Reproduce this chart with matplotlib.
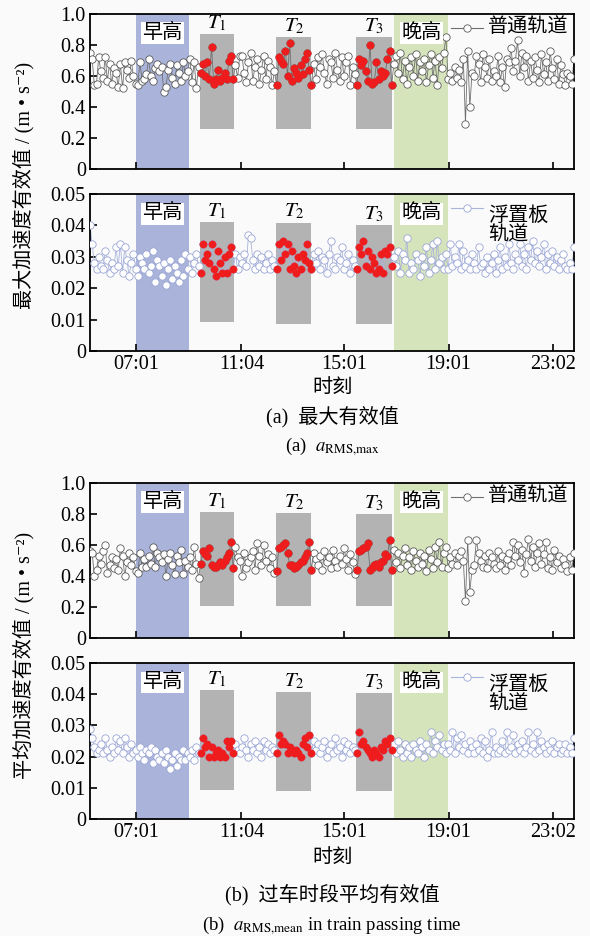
import numpy as np
import matplotlib
matplotlib.use('Agg')
import matplotlib.pyplot as plt

plt.rcParams['font.family'] = ['Liberation Serif', 'Noto Sans CJK SC', 'DejaVu Serif']
plt.rcParams['mathtext.fontset'] = 'stix'
plt.rcParams['axes.unicode_minus'] = False

# 采样时刻: 05:15 起, 每 5 min 一个点 (单位: min)
t_start = 5 * 60 + 15
t_step = 5

# 时段 (min)
morning_peak = (7 * 60, 9 * 60 + 3)
evening_peak = (16 * 60 + 56, 19 * 60)
t_windows = [(9 * 60 + 29, 10 * 60 + 47), (12 * 60 + 24, 13 * 60 + 45), (15 * 60 + 27, 16 * 60 + 50)]
t_names = ['$T_1$', '$T_2$', '$T_3$']

xtick_times = [7 * 60 + 1, 11 * 60 + 4, 15 * 60 + 1, 19 * 60 + 1, 23 * 60 + 2]
xtick_labels = ['07:01', '11:04', '15:01', '19:01', '23:02']

yticks_normal = [0, 0.2, 0.4, 0.6, 0.8, 1.0]
ylabels_normal = ['0', '0.2', '0.4', '0.6', '0.8', '1.0']
yticks_float = [0, 0.01, 0.02, 0.03, 0.04, 0.05]
ylabels_float = ['0', '0.01', '0.02', '0.03', '0.04', '0.05']

# 灰色框的上下限 (T1, T2, T3)
box_max_normal = [(0.26, 0.87), (0.26, 0.85), (0.26, 0.85)]
box_max_float = [(0.0091, 0.0411), (0.0086, 0.0409), (0.0086, 0.0401)]
box_mean_normal = [(0.207, 0.815), (0.207, 0.804), (0.207, 0.80)]
box_mean_float = [(0.0094, 0.0412), (0.0090, 0.0407), (0.0090, 0.0404)]

# (a) 最大有效值, 普通轨道
max_normal = [
    0.75, 0.71, 0.54, 0.55, 0.72, 0.63, 0.59, 0.72, 0.57, 0.68, 0.55, 0.65, 0.62, 0.53, 0.68, 0.52, 0.69, 0.64, 0.59, 0.70, 0.60, 0.55,
    0.54, 0.69, 0.57, 0.58, 0.61, 0.71, 0.60, 0.57, 0.65, 0.68, 0.63, 0.66, 0.50, 0.53, 0.64, 0.68, 0.59, 0.55, 0.67, 0.62, 0.57, 0.69, 0.60, 0.63, 0.71,
    0.56, 0.69, 0.52, 0.66,
    0.62, 0.68, 0.60, 0.69, 0.58, 0.79, 0.55, 0.58, 0.64, 0.57, 0.59, 0.62, 0.58, 0.70, 0.73, 0.58,
    0.67, 0.59, 0.73, 0.73, 0.62, 0.56, 0.69, 0.75, 0.57, 0.66, 0.71, 0.55, 0.64, 0.73, 0.58, 0.70, 0.66, 0.54, 0.63,
    0.54, 0.72, 0.70, 0.68, 0.76, 0.60, 0.81, 0.57, 0.65, 0.62, 0.59, 0.67, 0.61, 0.71, 0.75, 0.64, 0.54,
    0.68, 0.58, 0.72, 0.66, 0.74, 0.62, 0.55, 0.71, 0.69, 0.59, 0.75, 0.64, 0.57, 0.72, 0.60, 0.69, 0.73, 0.54, 0.66, 0.61,
    0.54, 0.71, 0.67, 0.70, 0.63, 0.57, 0.80, 0.55, 0.56, 0.69, 0.58, 0.63, 0.60, 0.62, 0.71, 0.76, 0.54,
    0.68, 0.73, 0.62, 0.75, 0.58, 0.70, 0.55, 0.66, 0.72, 0.60, 0.74, 0.57, 0.69, 0.63, 0.71, 0.56, 0.67, 0.74, 0.59, 0.70, 0.54, 0.72, 0.65, 0.75,
    0.85, 0.58, 0.62, 0.57, 0.66, 0.59, 0.64, 0.56, 0.71, 0.29, 0.76, 0.40, 0.62, 0.60, 0.73, 0.68, 0.56, 0.74, 0.66, 0.59,
    0.71, 0.57, 0.63, 0.60, 0.73, 0.56, 0.66, 0.53, 0.71, 0.69, 0.78, 0.63, 0.70, 0.83, 0.60, 0.75, 0.66, 0.73, 0.57, 0.70,
    0.59, 0.72, 0.64, 0.56, 0.74, 0.61, 0.69, 0.57, 0.76, 0.65, 0.58, 0.71, 0.55, 0.67, 0.61, 0.54, 0.62, 0.60, 0.55, 0.71,
]

# (a) 最大有效值, 浮置板轨道
max_float = [
    0.040, 0.034, 0.028, 0.026, 0.030, 0.027, 0.026, 0.032, 0.029, 0.025, 0.028, 0.026, 0.033, 0.027, 0.034, 0.025, 0.033, 0.029, 0.024, 0.028, 0.031, 0.026,
    0.024, 0.030, 0.028, 0.026, 0.031, 0.025, 0.027, 0.032, 0.022, 0.029, 0.027, 0.024, 0.028, 0.021, 0.026, 0.029, 0.023, 0.027, 0.025, 0.022, 0.029, 0.024, 0.031, 0.026, 0.030,
    0.025, 0.028, 0.031, 0.027,
    0.025, 0.034, 0.029, 0.031, 0.028, 0.034, 0.026, 0.024, 0.032, 0.028, 0.025, 0.030, 0.025, 0.031, 0.033, 0.026,
    0.031, 0.026, 0.030, 0.028, 0.031, 0.027, 0.037, 0.036, 0.029, 0.026, 0.031, 0.027, 0.030, 0.026, 0.028, 0.031, 0.026, 0.029, 0.027,
    0.026, 0.034, 0.029, 0.035, 0.031, 0.034, 0.026, 0.032, 0.027, 0.025, 0.030, 0.026, 0.031, 0.029, 0.034, 0.028, 0.026,
    0.031, 0.028, 0.032, 0.026, 0.030, 0.029, 0.025, 0.031, 0.035, 0.027, 0.026, 0.030, 0.029, 0.033, 0.026, 0.028, 0.031, 0.025, 0.029, 0.027,
    0.026, 0.033, 0.031, 0.035, 0.027, 0.032, 0.026, 0.030, 0.028, 0.025, 0.026, 0.031, 0.025, 0.032, 0.031, 0.033, 0.027,
    0.030, 0.027, 0.032, 0.025, 0.031, 0.029, 0.036, 0.025, 0.028, 0.026, 0.031, 0.029, 0.024, 0.030, 0.027, 0.033, 0.025, 0.029, 0.034, 0.026, 0.035, 0.028, 0.030, 0.026,
    0.031, 0.026, 0.034, 0.027, 0.030, 0.028, 0.034, 0.026, 0.032, 0.027, 0.029, 0.026, 0.031, 0.028, 0.026, 0.033, 0.027, 0.028, 0.025, 0.030,
    0.026, 0.028, 0.031, 0.025, 0.029, 0.033, 0.026, 0.030, 0.027, 0.034, 0.028, 0.026, 0.031, 0.029, 0.034, 0.027, 0.031, 0.026, 0.033, 0.029,
    0.035, 0.028, 0.032, 0.027, 0.030, 0.034, 0.026, 0.031, 0.028, 0.032, 0.027, 0.030, 0.026, 0.029, 0.031, 0.027, 0.026, 0.028, 0.026, 0.033,
]

# (b) 过车时段平均有效值, 普通轨道
mean_normal = [
    0.56, 0.55, 0.40, 0.44, 0.53, 0.48, 0.56, 0.60, 0.42, 0.47, 0.52, 0.45, 0.51, 0.44, 0.58, 0.53, 0.40, 0.49, 0.55, 0.47, 0.52, 0.43,
    0.42, 0.55, 0.46, 0.51, 0.46, 0.53, 0.48, 0.59, 0.46, 0.55, 0.52, 0.49, 0.54, 0.40, 0.51, 0.55, 0.47, 0.41, 0.53, 0.49, 0.57, 0.41, 0.50, 0.46, 0.52,
    0.44, 0.59, 0.48, 0.39,
    0.48, 0.56, 0.54, 0.53, 0.58, 0.47, 0.46, 0.46, 0.47, 0.49, 0.47, 0.50, 0.52, 0.55, 0.62, 0.45,
    0.59, 0.52, 0.50, 0.40, 0.55, 0.45, 0.49, 0.52, 0.56, 0.44, 0.61, 0.53, 0.47, 0.60, 0.50, 0.54, 0.45, 0.52, 0.42,
    0.43, 0.58, 0.59, 0.60, 0.61, 0.55, 0.47, 0.47, 0.45, 0.46, 0.47, 0.49, 0.50, 0.52, 0.55, 0.62, 0.44,
    0.55, 0.51, 0.47, 0.53, 0.44, 0.56, 0.49, 0.52, 0.45, 0.57, 0.50, 0.46, 0.53, 0.48, 0.58, 0.51, 0.44, 0.54, 0.49, 0.41,
    0.44, 0.56, 0.57, 0.58, 0.59, 0.61, 0.44, 0.45, 0.47, 0.48, 0.46, 0.49, 0.50, 0.54, 0.53, 0.63, 0.44,
    0.57, 0.49, 0.55, 0.45, 0.53, 0.58, 0.47, 0.52, 0.44, 0.56, 0.50, 0.46, 0.55, 0.48, 0.53, 0.43, 0.57, 0.51, 0.45, 0.59, 0.49, 0.62, 0.46, 0.55,
    0.59, 0.45, 0.52, 0.48, 0.55, 0.47, 0.53, 0.56, 0.50, 0.24, 0.63, 0.30, 0.44, 0.47, 0.63, 0.55, 0.50, 0.46, 0.53, 0.45,
    0.55, 0.52, 0.48, 0.45, 0.56, 0.47, 0.53, 0.44, 0.51, 0.55, 0.47, 0.62, 0.53, 0.60, 0.49, 0.57, 0.42, 0.54, 0.64, 0.50,
    0.59, 0.46, 0.55, 0.61, 0.48, 0.54, 0.62, 0.45, 0.52, 0.44, 0.57, 0.49, 0.53, 0.45, 0.51, 0.47, 0.43, 0.52, 0.44, 0.55,
]

# (b) 过车时段平均有效值, 浮置板轨道
mean_float = [
    0.029, 0.026, 0.023, 0.021, 0.022, 0.024, 0.021, 0.026, 0.022, 0.020, 0.023, 0.021, 0.026, 0.022, 0.025, 0.021, 0.026, 0.023, 0.020, 0.024, 0.021, 0.022,
    0.020, 0.023, 0.021, 0.019, 0.022, 0.021, 0.023, 0.018, 0.022, 0.020, 0.019, 0.021, 0.018, 0.022, 0.020, 0.016, 0.019, 0.021, 0.017, 0.020, 0.019, 0.022, 0.019, 0.021, 0.020,
    0.022, 0.019, 0.023, 0.021,
    0.021, 0.026, 0.023, 0.024, 0.020, 0.023, 0.020, 0.021, 0.022, 0.020, 0.021, 0.020, 0.025, 0.023, 0.025, 0.021,
    0.024, 0.022, 0.021, 0.023, 0.026, 0.022, 0.020, 0.024, 0.022, 0.025, 0.021, 0.023, 0.020, 0.025, 0.022, 0.024, 0.021, 0.023, 0.022,
    0.021, 0.027, 0.024, 0.025, 0.024, 0.021, 0.023, 0.022, 0.021, 0.022, 0.021, 0.020, 0.024, 0.026, 0.023, 0.027, 0.021,
    0.025, 0.022, 0.024, 0.021, 0.023, 0.025, 0.020, 0.022, 0.024, 0.021, 0.026, 0.022, 0.023, 0.020, 0.025, 0.022, 0.024, 0.021, 0.023, 0.022,
    0.021, 0.028, 0.024, 0.025, 0.023, 0.022, 0.021, 0.020, 0.022, 0.021, 0.020, 0.023, 0.022, 0.025, 0.024, 0.026, 0.022,
    0.024, 0.021, 0.025, 0.022, 0.020, 0.024, 0.021, 0.023, 0.020, 0.024, 0.022, 0.021, 0.025, 0.023, 0.020, 0.024, 0.022, 0.028, 0.021, 0.025, 0.023, 0.027, 0.022, 0.024,
    0.021, 0.024, 0.022, 0.028, 0.021, 0.026, 0.023, 0.027, 0.022, 0.024, 0.021, 0.025, 0.023, 0.021, 0.024, 0.022, 0.026, 0.021, 0.025, 0.020,
    0.022, 0.028, 0.021, 0.023, 0.021, 0.022, 0.025, 0.021, 0.028, 0.022, 0.023, 0.027, 0.021, 0.024, 0.022, 0.025, 0.021, 0.023, 0.028, 0.022,
    0.024, 0.021, 0.028, 0.022, 0.025, 0.023, 0.021, 0.024, 0.022, 0.025, 0.021, 0.023, 0.024, 0.021, 0.022, 0.024, 0.021, 0.023, 0.021, 0.026,
]

BG = '#fafafa'
FS = 14.5
style_normal = dict(line='#707070', edge='#5a5a5a')
style_float = dict(line='#aab4db', edge='#9aa6d5')


def draw_panel(ax, vals, yticks, ylabels, boxes, style, legend_text, show_x):
    vals = np.array(vals)
    t = t_start + t_step * np.arange(len(vals))
    ax.set_facecolor(BG)

    ax.axvspan(*morning_peak, color='#aab4da', lw=0, zorder=0)
    ax.axvspan(*evening_peak, color='#d6e4bc', lw=0, zorder=0)
    for (a, b), (lo, hi), name in zip(t_windows, boxes, t_names):
        ax.fill_between([a, b], lo, hi, color='#b3b3b3', lw=0, zorder=1)
        ax.text((a + b) / 2, hi + (yticks[-1] * 0.005), name, ha='center', va='bottom', fontsize=FS + 0.5)

    ax.plot(t, vals, '-', color=style['line'], lw=0.6, zorder=2)
    ax.plot(t, vals, 'o', ms=5.3, mfc='white', mec=style['edge'], mew=0.6, zorder=3)
    red = np.zeros(len(t), dtype=bool)
    for a, b in t_windows:
        red |= (t >= a) & (t <= b)
    ax.plot(t[red], vals[red], 'o', ms=5.3, mfc='#ee1c1c', mec='#ee1c1c', mew=0.3, zorder=4)

    for (a, b), name in [(morning_peak, '早高'), (evening_peak, '晚高')]:
        ax.text((a + b) / 2, 0.875, name, transform=ax.get_xaxis_transform(),
                ha='center', va='center', fontsize=FS, zorder=5,
                bbox=dict(facecolor='white', edgecolor='none', pad=1.0))

    # 图例
    ly = 0.91
    ax.plot([0.745, 0.812], [ly, ly], color=style['line'], lw=0.8, transform=ax.transAxes, clip_on=False)
    ax.plot([0.778], [ly], 'o', ms=5.3, mfc='white', mec=style['edge'], mew=0.6, transform=ax.transAxes, clip_on=False)
    ax.text(0.822, ly + 0.005, legend_text, transform=ax.transAxes, ha='left', va='top' if '\n' in legend_text else 'center',
            fontsize=FS, linespacing=1.0)

    ax.set_xlim(t[0], t[-1])
    ax.set_ylim(yticks[0], yticks[-1])
    ax.set_yticks(yticks)
    ax.set_yticklabels(ylabels)
    ax.set_xticks(xtick_times)
    ax.set_xticklabels(xtick_labels if show_x else [])
    ax.tick_params(direction='in', length=5, width=1.2, labelsize=FS, pad=3)
    for s in ax.spines.values():
        s.set_linewidth(1.3)


fig = plt.figure(figsize=(5.9, 9.36), dpi=100, facecolor=BG)
W, H = 590, 936
x0, x1 = 90 / W, 574 / W


def add_axes(top_px, bottom_px):
    return fig.add_axes([x0, 1 - bottom_px / H, x1 - x0, (bottom_px - top_px) / H])


ax1 = add_axes(14, 169)
ax2 = add_axes(194, 351)
ax3 = add_axes(483, 638)
ax4 = add_axes(663, 819)

draw_panel(ax1, max_normal, yticks_normal, ylabels_normal, box_max_normal, style_normal, '普通轨道', False)
draw_panel(ax2, max_float, yticks_float, ylabels_float, box_max_float, style_float, '浮置板\n轨道', True)
draw_panel(ax3, mean_normal, yticks_normal, ylabels_normal, box_mean_normal, style_normal, '普通轨道', False)
draw_panel(ax4, mean_float, yticks_float, ylabels_float, box_mean_float, style_float, '浮置板\n轨道', True)

xc = (x0 + x1) / 2
fig.text(0.040, 1 - 185 / H, '最大加速度有效值 / (m • s⁻²)', rotation=90, ha='center', va='center', fontsize=FS)
fig.text(0.040, 1 - 655 / H, '平均加速度有效值 / (m • s⁻²)', rotation=90, ha='center', va='center', fontsize=FS)
fig.text(xc, 1 - 388 / H, '时刻', ha='center', va='center', fontsize=FS)
fig.text(xc, 1 - 858 / H, '时刻', ha='center', va='center', fontsize=FS)
fig.text(xc, 1 - 417 / H, '(a)  最大有效值', ha='center', va='center', fontsize=FS)
fig.text(xc, 1 - 447 / H, r'(a)  $a_{\mathrm{RMS{,}max}}$', ha='center', va='center', fontsize=FS - 1)
fig.text(xc, 1 - 895 / H, '(b)  过车时段平均有效值', ha='center', va='center', fontsize=FS)
fig.text(xc, 1 - 926 / H, r'(b)  $a_{\mathrm{RMS{,}mean}}$ in train passing time', ha='center', va='center', fontsize=FS - 1)

fig.savefig('out.png', dpi=100, facecolor=BG)
